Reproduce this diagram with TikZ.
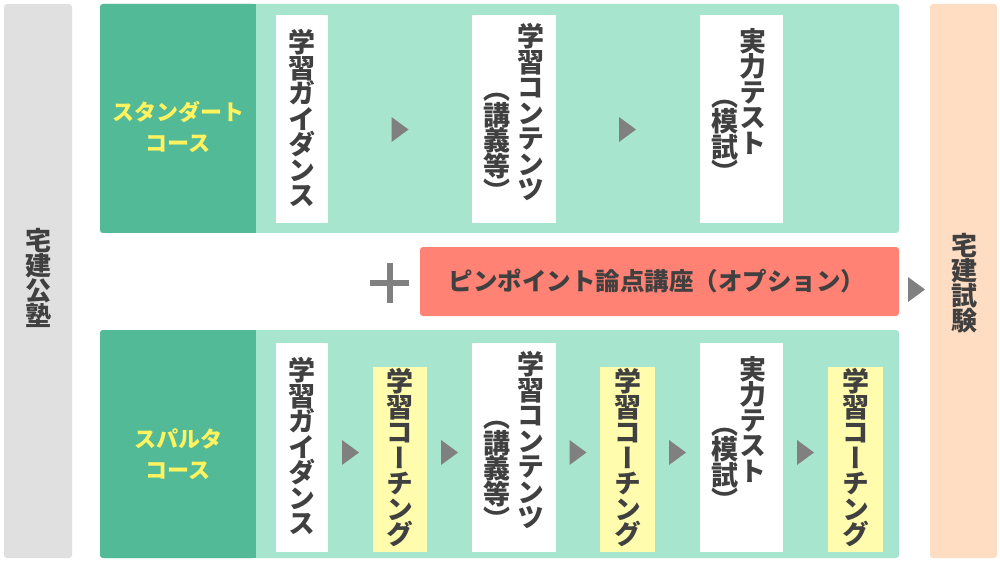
\documentclass[tikz,border=0pt]{standalone}
\usepackage{fontspec}
\setmainfont{Noto Sans CJK JP}
\newfontfamily\vjp{Noto Sans CJK JP}[RawFeature=+vert]
\usetikzlibrary{calc}
\definecolor{gbar}{HTML}{E0E0E0}
\definecolor{dkgreen}{HTML}{52BA96}
\definecolor{ltgreen}{HTML}{A8E5CF}
\definecolor{optred}{HTML}{FF8274}
\definecolor{peach}{HTML}{FFDDC3}
\definecolor{ylbox}{HTML}{FFFCAD}
\definecolor{yltext}{HTML}{FFF35F}
\definecolor{txt}{HTML}{404040}
\definecolor{arrowc}{HTML}{808080}
\setlength{\lineskiplimit}{-100pt}
\begin{document}
\begin{tikzpicture}[x=1pt,y=-1pt,
  panel/.style={rectangle, inner sep=0pt, outer sep=0pt, rounded corners=3pt},
  wbox/.style={rectangle, fill=white, inner sep=0pt, outer sep=0pt},
  ybox/.style={rectangle, fill=ylbox, inner sep=0pt, outer sep=0pt, minimum height=185pt},
  vt/.style={inner sep=0pt, align=center, text=txt,
    font=\vjp\bfseries\fontsize{27}{25.5}\selectfont},
  side/.style={inner sep=0pt, align=center, text=txt,
    font=\vjp\bfseries\fontsize{26}{25}\selectfont},
  course/.style={inner sep=0pt, align=center, text=yltext,
    font=\bfseries\fontsize{22}{31}\selectfont},
  tri/.pic={\fill[arrowc] (-8.5,-12.5) -- (8.5,0) -- (-8.5,12.5) -- cycle;}
]
\useasboundingbox (0,0) rectangle (1000,561);

% side bars
\node[panel, fill=gbar, minimum width=68pt, minimum height=554pt] (juku) at (38,281) {};
\node[side] (jukut) at (38,277.5) {宅\\建\\公\\塾};
\node[panel, fill=peach, minimum width=67pt, minimum height=554pt] (exam) at (963.5,281) {};
\node[side] (examt) at (964,283.5) {宅\\建\\試\\験};

% top panel
\node[panel, fill=ltgreen, minimum width=799pt, minimum height=229pt] (std) at (499.5,118.5) {};
\node[panel, fill=dkgreen, minimum width=155.5pt, minimum height=229pt] (stdk) at (177.75,118.5) {};
\fill[dkgreen] ([xshift=-5pt]stdk.north east) rectangle (stdk.south east);
\node[course] (stdt) at (178,126.5) {スタンダート\\コース};

\node[wbox, minimum width=52pt, minimum height=208pt] (g1) at (302,119) {};
\node[wbox, minimum width=84pt, minimum height=208pt] (c1) at (514,119) {};
\node[wbox, minimum width=83pt, minimum height=208pt] (t1) at (741.5,119) {};
\node[vt] (g1t) at (302,118) {学\\習\\ガ\\イ\\ダ\\ン\\ス};
\node[vt] (c1r) at (531,112) {学\\習\\コ\\ン\\テ\\ン\\ツ};
\node[vt] (c1l) at (497,147.5) {（\\講\\義\\等\\）};
\node[vt] (t1r) at (753,91) {実\\力\\テ\\ス\\ト};
\node[vt] (t1l) at (725,141.5) {（\\模\\試\\）};
\coordinate (a1) at (400,129.5);
\coordinate (a2) at (627.5,129.5);
\pic at (a1) {tri};
\pic at (a2) {tri};

% option
\coordinate (plus) at (389.5,283);
\fill[arrowc] ([shift={(-19.5,-3)}]plus) rectangle ([shift={(19.5,3)}]plus);
\fill[arrowc] ([shift={(-3,-20)}]plus) rectangle ([shift={(3,20)}]plus);
\node[panel, fill=optred, minimum width=479pt, minimum height=69pt] (opt) at (659.5,281.5) {};
\node[inner sep=0pt, text=txt, font=\bfseries\fontsize{24.5}{28}\selectfont] (optt) at (657,281) {ピンポイント論点講座（オプション）};
\coordinate (a0) at (916.5,289.5);
\pic at (a0) {tri};

% bottom panel
\node[panel, fill=ltgreen, minimum width=799pt, minimum height=228pt] (spa) at (499.5,444) {};
\node[panel, fill=dkgreen, minimum width=155.5pt, minimum height=228pt] (spak) at (177.75,444) {};
\fill[dkgreen] ([xshift=-5pt]spak.north east) rectangle (spak.south east);
\node[course] (spat) at (178,454.5) {スパルタ\\コース};

\node[wbox, minimum width=52pt, minimum height=209pt] (g2) at (302,447.5) {};
\node[ybox, minimum width=54pt] (y1) at (400,459.5) {};
\node[wbox, minimum width=84pt, minimum height=209pt] (c2) at (514,447.5) {};
\node[ybox, minimum width=55pt] (y2) at (627.5,459.5) {};
\node[wbox, minimum width=83pt, minimum height=209pt] (t2) at (741.5,447.5) {};
\node[ybox, minimum width=55pt] (y3) at (855.5,459.5) {};

\node[vt] (g2t) at (302,446) {学\\習\\ガ\\イ\\ダ\\ン\\ス};
\node[vt] (y1t) at (400,458) {学\\習\\コ\\ー\\チ\\ン\\グ};
\node[vt] (c2r) at (531,440) {学\\習\\コ\\ン\\テ\\ン\\ツ};
\node[vt] (c2l) at (497,475.5) {（\\講\\義\\等\\）};
\node[vt] (y2t) at (627.5,458) {学\\習\\コ\\ー\\チ\\ン\\グ};
\node[vt] (t2r) at (753,419) {実\\力\\テ\\ス\\ト};
\node[vt] (t2l) at (725,469.5) {（\\模\\試\\）};
\node[vt] (y3t) at (855.5,458) {学\\習\\コ\\ー\\チ\\ン\\グ};

\coordinate (b1) at (350.5,452.5);
\coordinate (b2) at (449.5,452.5);
\coordinate (b3) at (578,452.5);
\coordinate (b4) at (677.5,452.5);
\coordinate (b5) at (805.5,452.5);
\foreach \p in {b1,b2,b3,b4,b5} \pic at (\p) {tri};
\end{tikzpicture}
\end{document}
